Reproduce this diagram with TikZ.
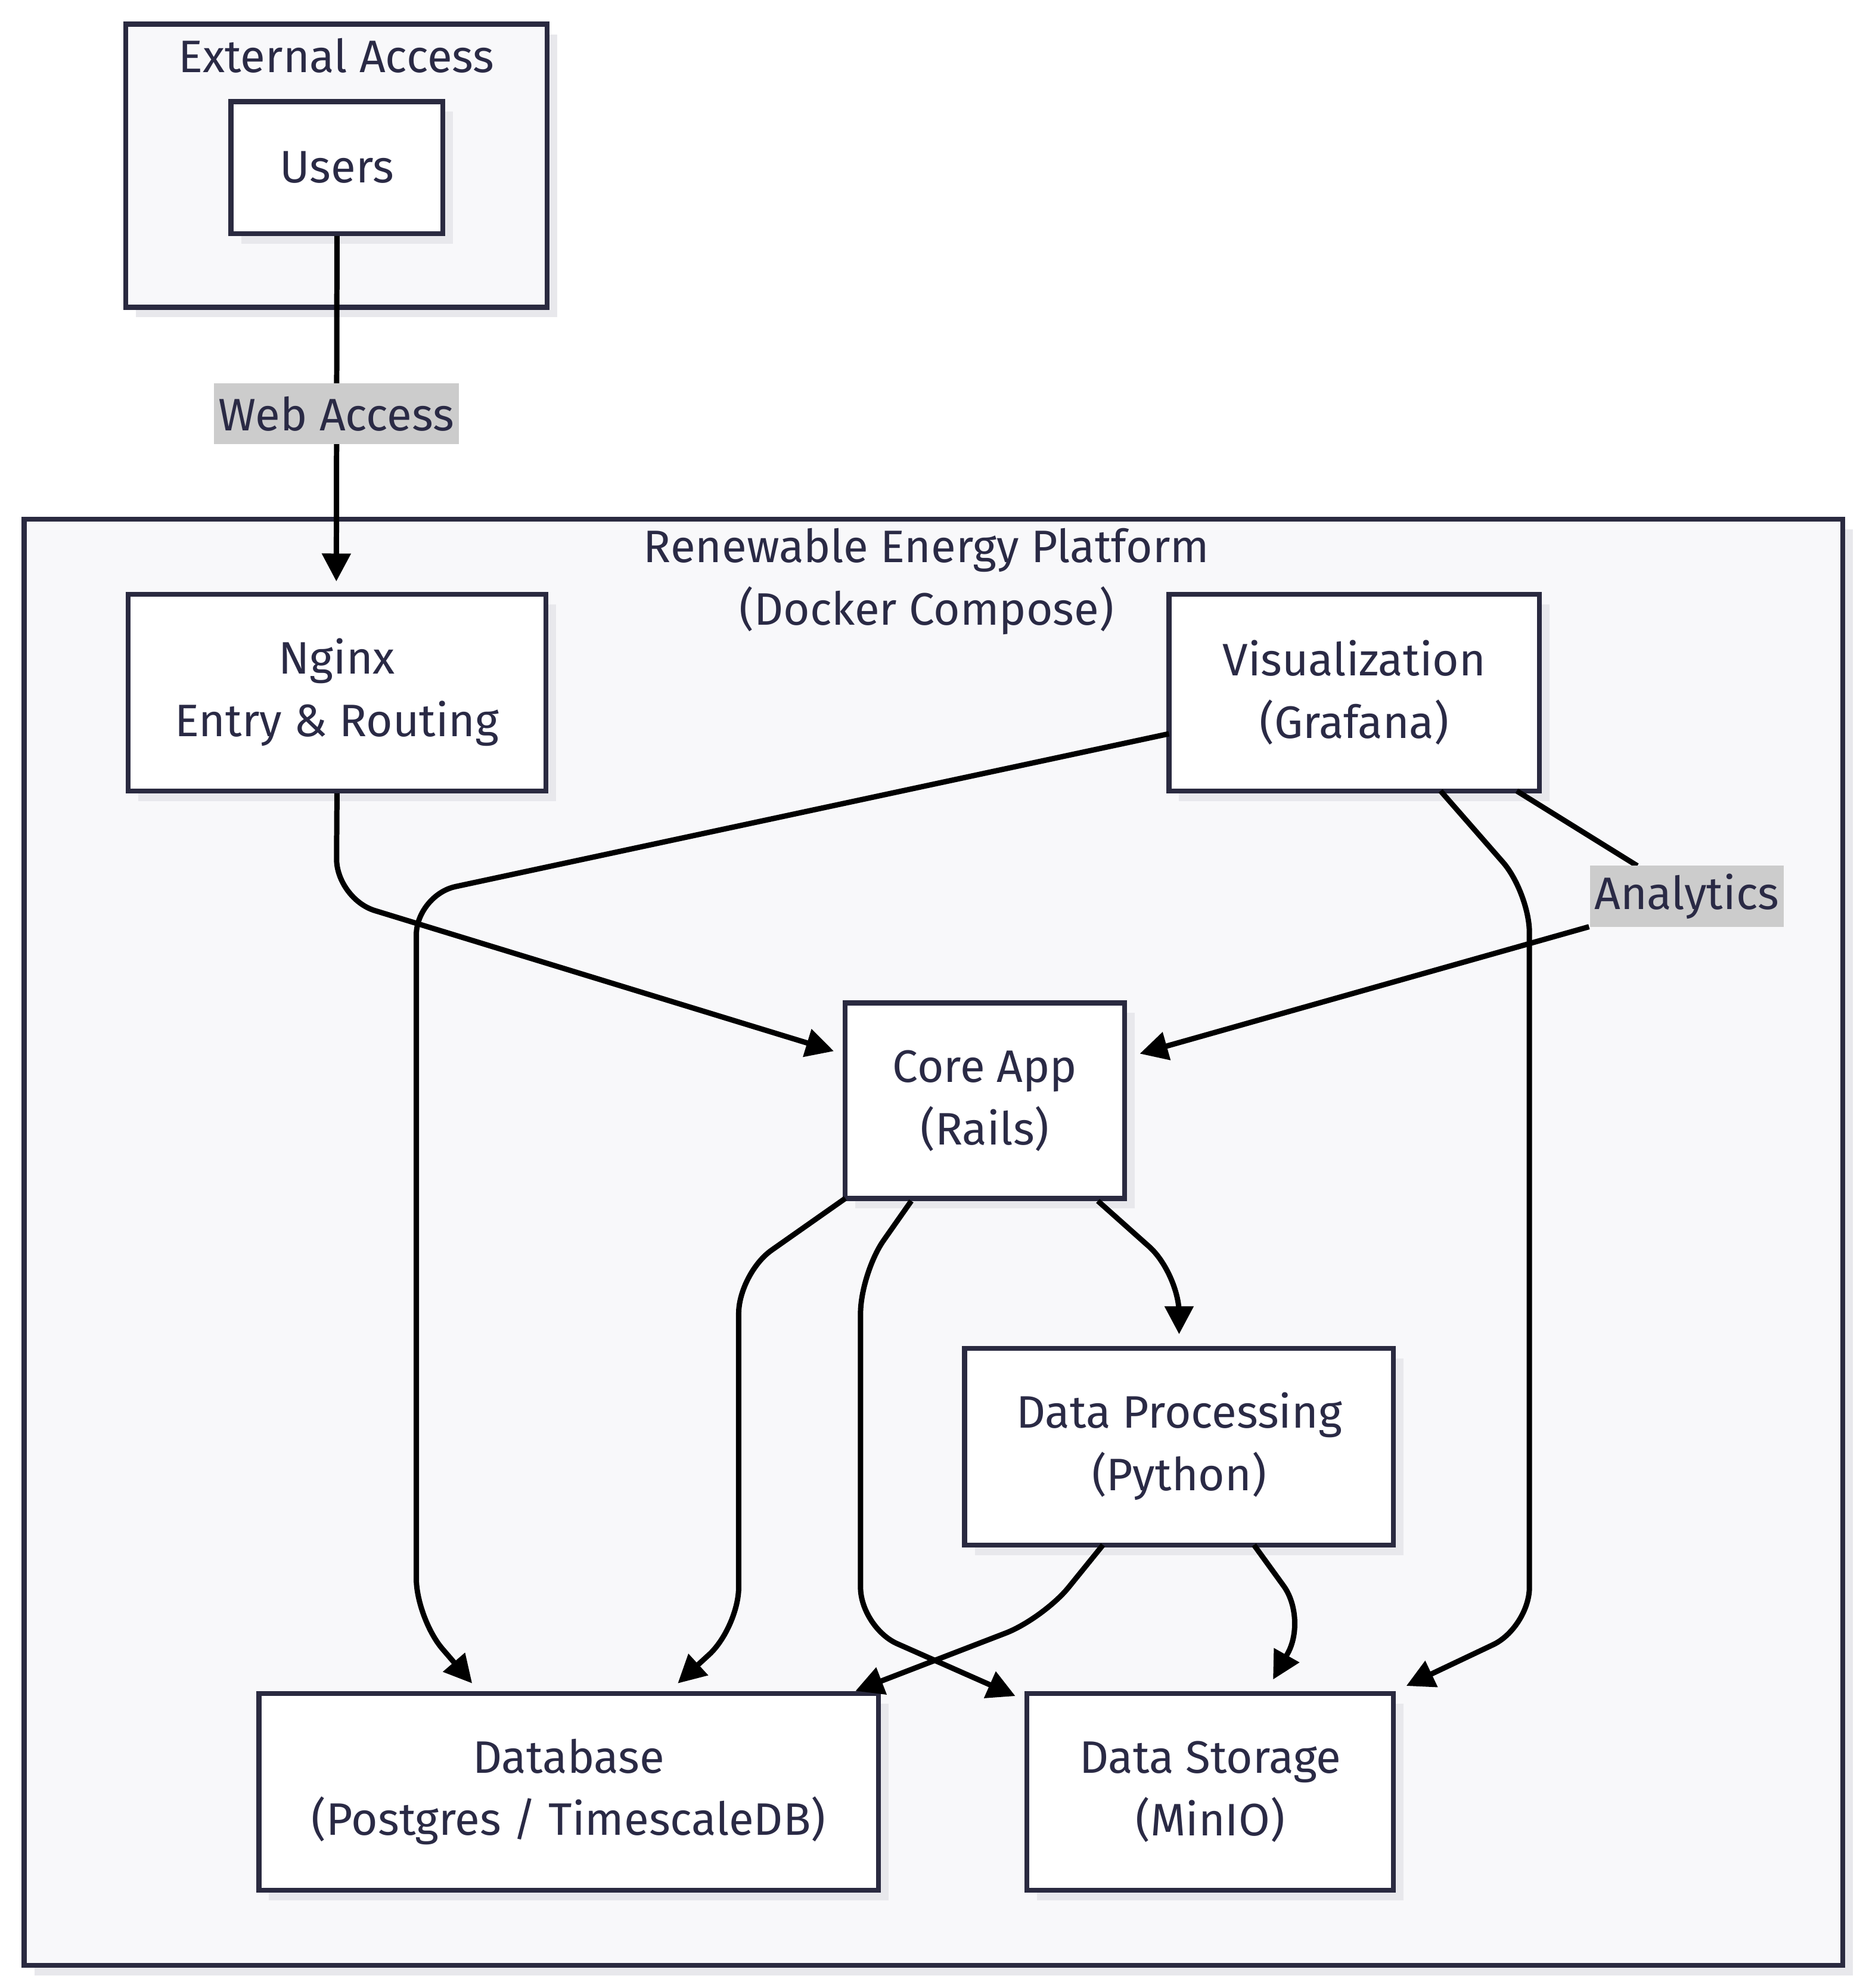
\documentclass[tikz,border=0pt]{standalone}
\usepackage{fontspec}
\setmainfont{Fira Sans}
\usetikzlibrary{arrows.meta}
\definecolor{strk}{HTML}{2A2A40}
\definecolor{txt}{HTML}{2A2A45}
\definecolor{bgf}{HTML}{F8F8FA}
\definecolor{shd}{HTML}{E8E8EC}
\definecolor{lbl}{HTML}{CCCCCC}
\begin{document}
\begin{tikzpicture}[x=0.01cm,y=-0.01cm,
  font=\fontsize{10.2}{14}\selectfont, text=txt,
  box/.style={draw=strk,line width=1.1pt,fill=white,align=center,inner sep=0pt},
  grp/.style={draw=strk,line width=1.1pt,fill=bgf},
  edge/.style={draw=black,line width=1.2pt,rounded corners=9pt},
  arr/.style={-{Triangle[length=0.22cm,width=0.22cm]}},
  lab/.style={fill=lbl,inner sep=1pt,minimum height=0.48cm,text=txt}]
\useasboundingbox (0,0) rectangle (1470,1566);
% groups with shadows
\fill[shd] (107,27) rectangle (439,250);
\path[grp] (99,19) rectangle (431,242);
\node at (265,44) {External Access};
\fill[shd] (27,417) rectangle (1460,1556);
\path[grp] (19,409) rectangle (1452,1548);
\node[align=center] at (730,458) {Renewable Energy Platform\\(Docker Compose)};
% boxes
\newcommand{\bx}[6]{\fill[shd] (#2+8,#3+8) rectangle (#4+8,#5+8);
  \node[box,minimum width=(#4-#2)*0.01cm,minimum height=(#5-#3)*0.01cm] (#1) at ({(#2+#4)/2},{(#3+#5)/2}) {#6};}
\bx{users}{182}{80}{349}{184}{Users}
\bx{nginx}{101}{468}{430}{623}{Nginx\\Entry \& Routing}
\bx{viz}{921}{468}{1213}{623}{Visualization\\(Grafana)}
\bx{core}{666}{790}{886}{944}{Core App\\(Rails)}
\bx{dp}{760}{1062}{1098}{1217}{Data Processing\\(Python)}
\bx{db}{204}{1334}{692}{1489}{Database\\(Postgres / TimescaleDB)}
\bx{ds}{809}{1334}{1098}{1489}{Data Storage\\(MinIO)}
% edges
\draw[edge,arr] (users.south) -- (265,458);
\node[lab,minimum width=1.89cm] (wa) at (265,326) {Web Access};
\draw[edge,arr] (nginx.south) -- (265,708) -- (657,828);
\draw[edge,arr] (921,578) -- (328,705) -- (328,1275) -- (372,1326);
\draw[edge,arr] (1135,623) -- (1205,703) -- (1205,1282) -- (1108,1328);
\draw[edge] (1195,623) -- (1290,682);
\draw[edge,arr] (1252,730) -- (898,830);
\node[lab,minimum width=1.51cm] (an) at (1329,706) {Analytics};
\draw[edge,arr] (666,944) -- (582,1003) -- (582,1282) -- (534,1326);
\draw[edge,arr] (718,946) -- (678,1003) -- (678,1282) -- (800,1336);
\draw[edge,arr] (865,946) -- (929,1003) -- (929,1051);
\draw[edge,arr] (869,1217) -- (822,1275) -- (674,1332);
\draw[edge,arr] (988,1217) -- (1030,1275) -- (1003,1323);
\end{tikzpicture}
\end{document}
